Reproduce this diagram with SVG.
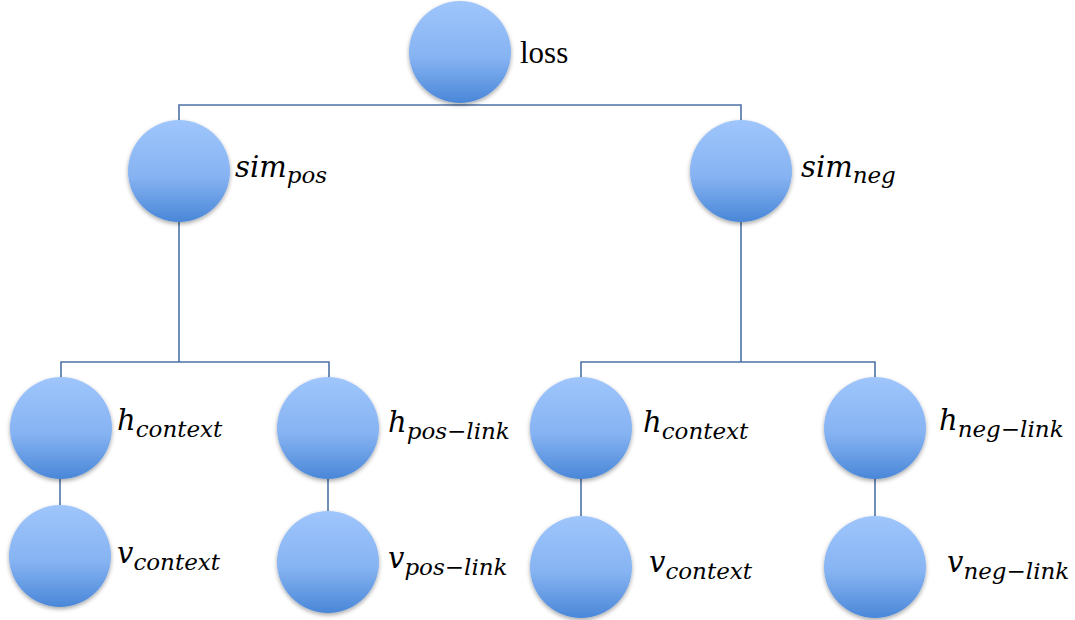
<svg xmlns="http://www.w3.org/2000/svg" width="1075" height="620" viewBox="0 0 1075 620">
<style>
.edge{fill:none;stroke:#4d72a6;stroke-width:1.6}
.node{fill:url(#g);filter:url(#sh)}
.m{font-family:"DejaVu Serif",serif;font-style:italic;font-size:29px;fill:#000}
.s{font-size:23px}
.r{font-family:"Liberation Serif",serif;font-size:31px;fill:#000}
</style>
<defs>
<linearGradient id="g" x1="0" y1="0" x2="0" y2="1">
<stop offset="0" stop-color="#9fc6fc"/>
<stop offset="0.55" stop-color="#86b3f2"/>
<stop offset="1" stop-color="#4a87d8"/>
</linearGradient>
<filter id="sh" x="-20%" y="-20%" width="140%" height="150%">
<feDropShadow dx="0" dy="2" stdDeviation="2" flood-color="#000" flood-opacity="0.35"/>
</filter>
</defs>
<g id="connectors">
<path class="edge" d="M179 120 V105 H741 V120"/>
<path class="edge" d="M179 222 V362 M61 377 V362 H329 V377"/>
<path class="edge" d="M741 222 V362 M581 377 V362 H875 V377"/>
<path class="edge" d="M60 479 V505"/>
<path class="edge" d="M328 479 V512"/>
<path class="edge" d="M581 479 V517"/>
<path class="edge" d="M875 479 V517"/>
</g>
<g id="loss"><circle class="node" cx="460" cy="52" r="51"/><text class="r" x="520" y="63">loss</text></g>
<g id="sim_pos"><circle class="node" cx="179" cy="171" r="51"/><text class="m" x="235" y="177">sim<tspan class="s" dy="6">pos</tspan></text></g>
<g id="sim_neg"><circle class="node" cx="741" cy="171" r="51"/><text class="m" x="801" y="177">sim<tspan class="s" dy="6">neg</tspan></text></g>
<g id="h_context_1"><circle class="node" cx="61" cy="428" r="51"/><text class="m" x="117" y="430">h<tspan class="s" dy="7">context</tspan></text></g>
<g id="v_context_1"><circle class="node" cx="60" cy="556" r="51"/><text class="m" x="117" y="563">v<tspan class="s" dy="7">context</tspan></text></g>
<g id="h_pos_link"><circle class="node" cx="328" cy="428" r="51"/><text class="m" x="388" y="432">h<tspan class="s" dy="7">pos−link</tspan></text></g>
<g id="v_pos_link"><circle class="node" cx="328" cy="562" r="51"/><text class="m" x="388" y="568">v<tspan class="s" dy="7">pos−link</tspan></text></g>
<g id="h_context_2"><circle class="node" cx="581" cy="428" r="51"/><text class="m" x="643" y="432">h<tspan class="s" dy="7">context</tspan></text></g>
<g id="v_context_2"><circle class="node" cx="581" cy="567" r="51"/><text class="m" x="649" y="572">v<tspan class="s" dy="7">context</tspan></text></g>
<g id="h_neg_link"><circle class="node" cx="875" cy="428" r="51"/><text class="m" x="939" y="430">h<tspan class="s" dy="7">neg−link</tspan></text></g>
<g id="v_neg_link"><circle class="node" cx="875" cy="567" r="51"/><text class="m" x="947" y="572">v<tspan class="s" dy="7">neg−link</tspan></text></g>
</svg>
